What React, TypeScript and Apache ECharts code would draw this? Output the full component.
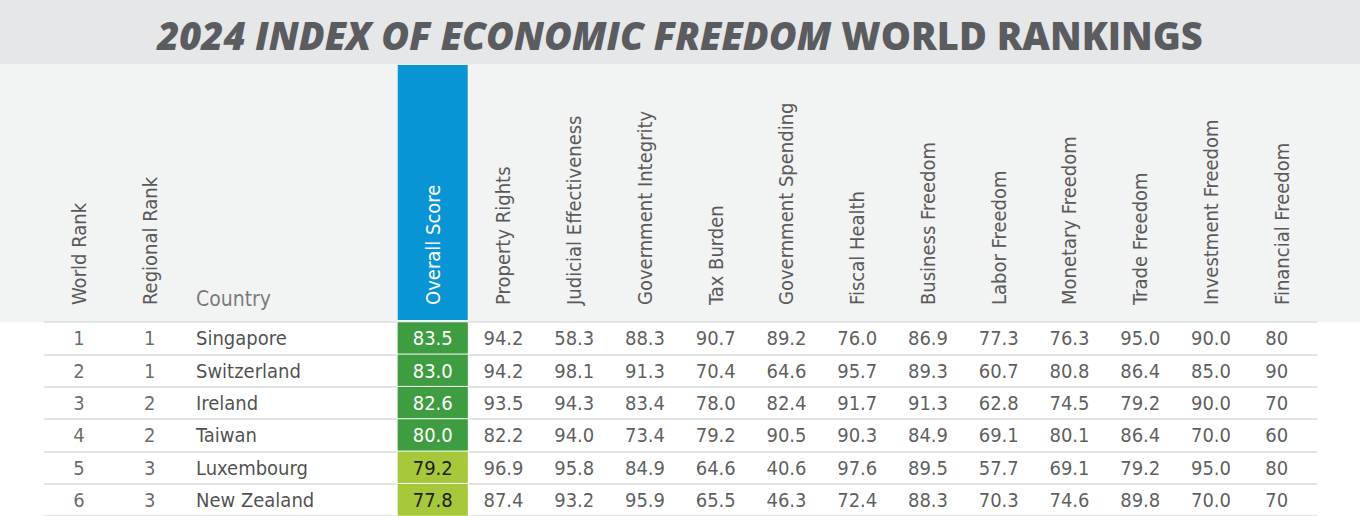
import React, { useEffect, useRef } from 'react';
import * as echarts from 'echarts';

// ---- data ----
const columns = [
  'World Rank', 'Regional Rank', 'Country', '_gap1', '_gap2', 'Overall Score',
  'Property Rights', 'Judicial Effectiveness', 'Government Integrity', 'Tax Burden',
  'Government Spending', 'Fiscal Health', 'Business Freedom', 'Labor Freedom',
  'Monetary Freedom', 'Trade Freedom', 'Investment Freedom', 'Financial Freedom',
];
const worldRank = [1, 2, 3, 4, 5, 6];
const regionalRank = [1, 1, 2, 2, 3, 3];
const countries = ['Singapore', 'Switzerland', 'Ireland', 'Taiwan', 'Luxembourg', 'New Zealand'];
const overallScore = [83.5, 83.0, 82.6, 80.0, 79.2, 77.8];
const propertyRights = [94.2, 94.2, 93.5, 82.2, 96.9, 87.4];
const judicialEffectiveness = [58.3, 98.1, 94.3, 94.0, 95.8, 93.2];
const governmentIntegrity = [88.3, 91.3, 83.4, 73.4, 84.9, 95.9];
const taxBurden = [90.7, 70.4, 78.0, 79.2, 64.6, 65.5];
const governmentSpending = [89.2, 64.6, 82.4, 90.5, 40.6, 46.3];
const fiscalHealth = [76.0, 95.7, 91.7, 90.3, 97.6, 72.4];
const businessFreedom = [86.9, 89.3, 91.3, 84.9, 89.5, 88.3];
const laborFreedom = [77.3, 60.7, 62.8, 69.1, 57.7, 70.3];
const monetaryFreedom = [76.3, 80.8, 74.5, 80.1, 69.1, 74.6];
const tradeFreedom = [95.0, 86.4, 79.2, 86.4, 79.2, 89.8];
const investmentFreedom = [90.0, 85.0, 90.0, 70.0, 95.0, 70.0];
const financialFreedom = [80, 90, 70, 60, 80, 70];

const scoreColumns: [string, number[], number][] = [
  ['Property Rights', propertyRights, 1],
  ['Judicial Effectiveness', judicialEffectiveness, 1],
  ['Government Integrity', governmentIntegrity, 1],
  ['Tax Burden', taxBurden, 1],
  ['Government Spending', governmentSpending, 1],
  ['Fiscal Health', fiscalHealth, 1],
  ['Business Freedom', businessFreedom, 1],
  ['Labor Freedom', laborFreedom, 1],
  ['Monetary Freedom', monetaryFreedom, 1],
  ['Trade Freedom', tradeFreedom, 1],
  ['Investment Freedom', investmentFreedom, 1],
  ['Financial Freedom', financialFreedom, 0],
];

const FONT = '"DejaVu Sans Condensed", "Roboto", sans-serif';
const TITLE_FONT = '"Open Sans", "Lato", sans-serif';

export default function App() {
  const ref = useRef<HTMLDivElement>(null);
  useEffect(() => {
    if (!ref.current) return;
    const chart = echarts.init(ref.current, null, { renderer: 'svg' });
    const col = (name: string) => columns.indexOf(name);
    const rows = countries;

    const gridLeft = 43.6;
    const gridWidth = 1273.5;

    const numberData: any[] = [];
    scoreColumns.forEach(([name, vals, dec]) => {
      vals.forEach((v, i) =>
        numberData.push({
          value: [col(name), i, v],
          dec,
          label: name === 'Financial Freedom' ? { offset: [-5, 0] } : undefined,
        })
      );
    });

    const option: any = {
      animation: false,
      backgroundColor: '#ffffff',
      textStyle: { fontFamily: FONT },
      title: {
        left: 'center',
        top: 11,
        text: '{a|2024 INDEX OF ECONOMIC FREEDOM}{b|WORLD RANKINGS}',
        textStyle: {
          rich: {
            a: { fontFamily: TITLE_FONT, fontSize: 38, fontWeight: 800, fontStyle: 'italic', color: '#5b5c5f' },
            b: { fontFamily: TITLE_FONT, fontSize: 38, fontWeight: 800, color: '#5b5c5f', padding: [0, 0, 0, 10] },
          },
        },
      },
      graphic: [
        { type: 'rect', z: -10, shape: { x: 0, y: 0, width: 1360, height: 64 }, style: { fill: '#e6e7e9' } },
        { type: 'rect', z: -10, shape: { x: 0, y: 64, width: 1360, height: 258 }, style: { fill: '#f2f3f3' } },
      ],
      grid: [
        { left: gridLeft, width: gridWidth, top: 65, height: 255 },
        { left: gridLeft, width: gridWidth, top: 322, height: 196 },
      ],
      xAxis: [
        { type: 'category', gridIndex: 0, data: columns, show: false },
        {
          type: 'category',
          gridIndex: 1,
          position: 'top',
          z: 10,
          data: columns.map((c) => (c === 'Overall Score' ? { value: c, textStyle: { color: '#ffffff' } } : c)),
          axisLine: { show: false },
          axisTick: { show: false },
          axisLabel: {
            interval: 0,
            rotate: -90,
            margin: 17,
            fontSize: 20,
            color: '#5a5a5a',
            fontFamily: FONT,
            formatter: (v: string) => (v === 'Country' || v.startsWith('_') ? '' : v),
          },
        },
      ],
      yAxis: [
        { type: 'value', gridIndex: 0, min: 0, max: 1, show: false },
        {
          type: 'category',
          gridIndex: 1,
          data: rows,
          inverse: true,
          axisLine: { show: false },
          axisTick: { show: false },
          axisLabel: { show: false },
          splitLine: { show: true, interval: 0, lineStyle: { color: '#e3e4e4', width: 2 } },
        },
      ],
      visualMap: {
        type: 'piecewise',
        show: false,
        seriesIndex: 2,
        dimension: 2,
        pieces: [
          { gte: 80, color: '#3f9d41' },
          { gte: 70, lt: 80, color: '#a6c93b' },
        ],
      },
      series: [
        {
          type: 'bar',
          xAxisIndex: 0,
          yAxisIndex: 0,
          z: 1,
          barWidth: 70,
          itemStyle: { color: '#0995d5' },
          data: columns.map((c) => (c === 'Overall Score' ? 1 : '-')),
        },
        {
          type: 'scatter',
          xAxisIndex: 0,
          yAxisIndex: 0,
          symbolSize: 0,
          data: [[col('Country'), 0]],
          label: {
            show: true,
            position: 'inside',
            align: 'left',
            verticalAlign: 'bottom',
            offset: [-24.5, -11],
            fontSize: 21,
            color: '#5a5a5a',
            fontFamily: FONT,
            formatter: () => 'Country',
          },
        },
        {
          type: 'heatmap',
          xAxisIndex: 1,
          yAxisIndex: 1,
          itemStyle: { borderColor: '#ffffff', borderWidth: 1 },
          data: overallScore.map((v, i) => ({
            value: [col('Overall Score'), i, v],
            label: { color: v >= 80 ? '#ffffff' : '#1e1e1e' },
          })),
          label: {
            show: true,
            fontSize: 20,
            fontFamily: FONT,
            formatter: (p: any) => p.value[2].toFixed(1),
          },
        },
        {
          type: 'scatter',
          xAxisIndex: 1,
          yAxisIndex: 1,
          symbolSize: 0,
          data: worldRank.map((v, i) => [col('World Rank'), i, v]),
          label: { show: true, position: 'inside', fontSize: 20, color: '#444444', formatter: (p: any) => String(p.value[2]) },
        },
        {
          type: 'scatter',
          xAxisIndex: 1,
          yAxisIndex: 1,
          symbolSize: 0,
          data: regionalRank.map((v, i) => [col('Regional Rank'), i, v]),
          label: { show: true, position: 'inside', fontSize: 20, color: '#444444', formatter: (p: any) => String(p.value[2]) },
        },
        {
          type: 'scatter',
          xAxisIndex: 1,
          yAxisIndex: 1,
          symbolSize: 0,
          data: countries.map((c, i) => ({ value: [col('Country'), i], name: c })),
          label: {
            show: true,
            position: 'inside',
            align: 'left',
            offset: [-24.5, 0],
            fontSize: 20,
            color: '#1e1e1e',
            formatter: (p: any) => p.name,
          },
        },
        {
          type: 'scatter',
          xAxisIndex: 1,
          yAxisIndex: 1,
          symbolSize: 0,
          data: numberData,
          label: {
            show: true,
            position: 'inside',
            fontSize: 20,
            color: '#333333',
            formatter: (p: any) => p.value[2].toFixed(p.data.dec),
          },
        },
      ],
    };
    chart.setOption(option);
    return () => chart.dispose();
  }, []);
  return <div ref={ref} style={{ position: 'absolute', left: 0, top: 0, width: 1360, height: 516 }} />;
}
